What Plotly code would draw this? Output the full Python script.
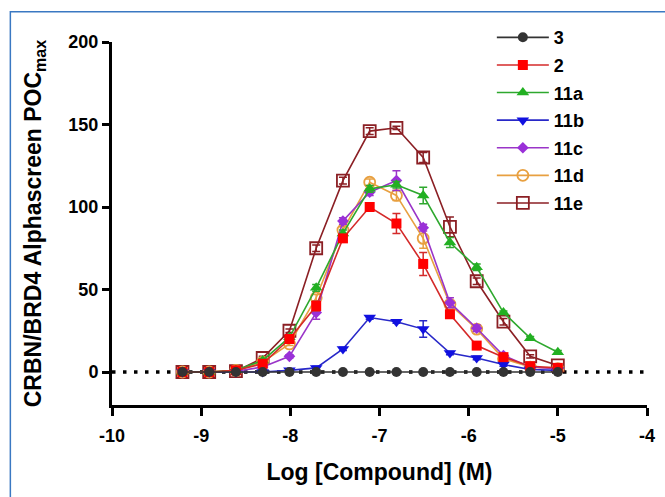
import plotly.graph_objects as go

# Log concentration (M), 2-fold dilution series
log_conc = [-9.21, -8.91, -8.61, -8.31, -8.01, -7.71, -7.41, -7.11, -6.81, -6.51, -6.21, -5.91, -5.61, -5.31, -5.00]

# Series values (POC max) and error bars
s_3 = [0, 0, 0, 0, 0, 0, 0, 0, 0, 0, 0, 0, 0, 0, 0]
e_3 = [0, 0, 0, 0, 0, 0, 0, 0, 0, 0, 0, 0, 0, 0, 0]
s_2 = [0, 0, 1, 5, 20, 40, 81, 100, 90, 65.5, 35, 16, 9, 3.5, 2.5]
e_2 = [0, 0, 0, 1, 2, 3, 2, 2, 6, 7, 2, 2, 1, 1, 1]
s_11a = [0, 0, 1, 7, 21, 51, 84, 111, 113.5, 107, 78.5, 63.5, 36, 20.5, 12]
e_11a = [0, 0, 0, 1, 1, 2, 2, 2, 2, 5, 3, 2, 1, 1, 1]
s_11b = [0, 0, 0, 0, 1, 2.5, 14, 33, 30.5, 26, 11.5, 8.5, 4.5, 1.5, 1]
e_11b = [0, 0, 0, 0, 0, 1, 1, 1, 1, 5, 1, 1, 1, 0, 0]
s_11c = [0, 0, 0.5, 3, 9.5, 36, 91.5, 109, 116, 87.5, 42, 26.5, 10, 3, 2]
e_11c = [0, 0, 0, 1, 1, 4, 2, 2, 6, 2, 3, 2, 1, 1, 1]
s_11d = [0, 0, 1, 6, 17, 45, 86, 115, 107, 81, 41, 26, 8, 3, 2]
e_11d = [0, 0, 0, 1, 1, 2, 2, 2, 3, 6, 2, 1, 1, 1, 1]
s_11e = [0, 0, 0.5, 8.5, 25, 75, 116, 146, 148, 130, 88, 55, 30.5, 9.5, 4]
e_11e = [0, 0, 0, 1, 1, 2, 2, 2, 1, 3, 6, 2, 2, 1, 1]

names = ["3", "2", "11a", "11b", "11c", "11d", "11e"]
values = [s_3, s_2, s_11a, s_11b, s_11c, s_11d, s_11e]
errors = [e_3, e_2, e_11a, e_11b, e_11c, e_11d, e_11e]
line_colors = ["#333333", "#D42A2A", "#2EA82E", "#2828C8", "#9A35C8", "#E8A040", "#8B1F24"]
marker_colors = ["#333333", "#FF0000", "#22B022", "#1010E0", "#9A30D8", "#E8A040", "#8B1F24"]
symbols = ["circle", "square", "triangle-up", "triangle-down", "diamond", "circle-open", "square-open"]
sizes = [10, 10, 11, 11, 9, 11, 12]

x_ticks = [-10, -9, -8, -7, -6, -5, -4]
y_ticks = [0, 50, 100, 150, 200]

FONT = "Liberation Sans, Arial, sans-serif"

fig = go.Figure()

# draw in reverse so that "3" sits on top; legendrank keeps the legend order
for i in reversed(range(len(names))):
    fig.add_trace(go.Scatter(
        x=log_conc, y=values[i], name="<b>" + names[i] + "</b>",
        mode="lines+markers",
        legendgroup=names[i], legendrank=i + 1,
        line=dict(color=line_colors[i], width=1.6),
        marker=dict(symbol=symbols[i], size=sizes[i], color=marker_colors[i],
                    line=dict(color=marker_colors[i], width=1.8 if "open" in symbols[i] else 0)),
        error_y=dict(type="data", array=errors[i], visible=True,
                     color=line_colors[i], thickness=1.5, width=4),
    ))

# dotted baseline at y = 0
fig.add_shape(type="line", xref="x", yref="y", x0=-10, x1=-4, y0=0, y1=0,
              line=dict(color="black", width=3.5, dash="3.5px,7.5px"), layer="below")

# thin blue frame (only left and top visible)
fig.add_shape(type="rect", xref="paper", yref="paper",
              x0=-0.190, x1=1.1, y0=-0.35, y1=1.083,
              line=dict(color="#3A78C2", width=1.5))

fig.update_layout(
    width=665, height=497,
    margin=dict(l=112, r=10, t=42, b=92),
    paper_bgcolor="white", plot_bgcolor="white",
    font=dict(family=FONT, color="black"),
    legend=dict(x=0.71, y=1.063, xanchor="left", yanchor="top",
                traceorder="grouped", tracegroupgap=1.2,
                font=dict(family=FONT, size=18, color="black"),
                bgcolor="rgba(0,0,0,0)", itemwidth=52),
    xaxis=dict(range=[-10, -4], tickvals=x_ticks, ticktext=["<b>%d</b>" % t for t in x_ticks],
               showline=True, linecolor="black", linewidth=3,
               ticks="outside", ticklen=8, tickwidth=3, tickcolor="black",
               showgrid=False, zeroline=False, ticklabelstandoff=4,
               tickfont=dict(family=FONT, size=18),
               title=dict(text="<b>Log [Compound] (M)</b>", font=dict(family=FONT, size=23), standoff=20)),
    yaxis=dict(range=[-20, 200], tickvals=y_ticks, ticktext=["<b>%d</b>" % t for t in y_ticks],
               showline=True, linecolor="black", linewidth=3,
               ticks="outside", ticklen=7, tickwidth=3, tickcolor="black",
               showgrid=False, zeroline=False,
               tickfont=dict(family=FONT, size=18),
               title=dict(text="<b>CRBN/BRD4 Alphascreen POC<sub>max</sub></b>",
                          font=dict(family=FONT, size=23), standoff=21)),
    showlegend=True,
)

fig.write_html("out.html", config={"displayModeBar": False},
               post_script="document.body.style.margin='0';")
